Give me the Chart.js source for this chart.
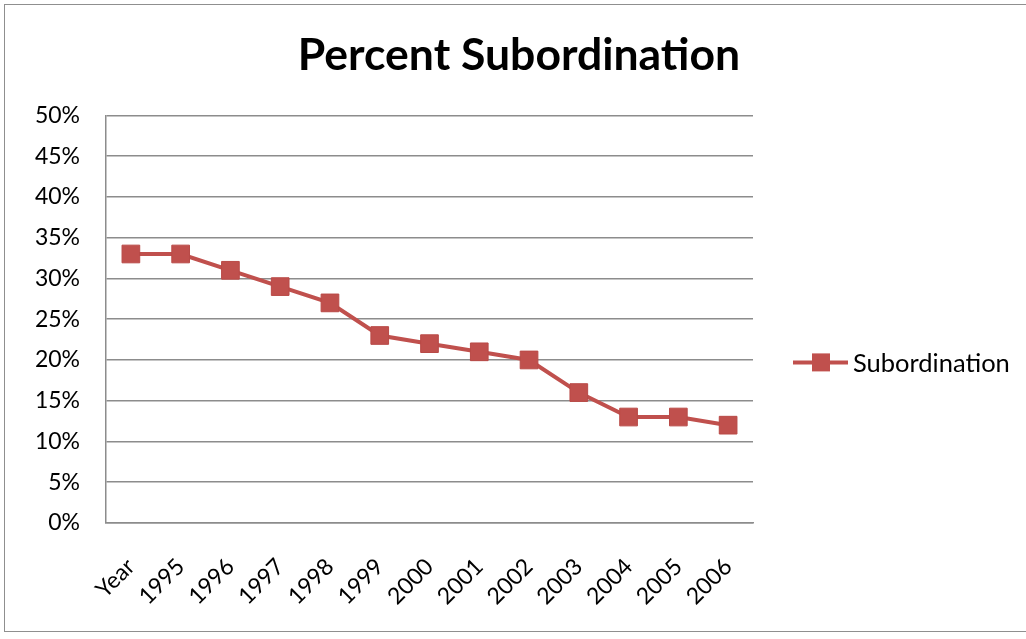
<!DOCTYPE html>
<html>
<head>
<meta charset="utf-8">
<script src="https://cdn.jsdelivr.net/npm/chart.js@4/dist/chart.umd.min.js"></script>
<style>
  html, body { margin: 0; padding: 0; background: #ffffff; overflow: hidden; }
  #wrap { position: relative; width: 1026px; height: 639px; }
  #frame { position: absolute; left: 4px; top: 4px; width: 1100px; height: 628px; border: 1px solid #8f8f8f; box-sizing: border-box; }
  #chart { position: absolute; left: 0; top: 0; }
</style>
</head>
<body>
<div id="wrap">
  <div id="frame"></div>
  <canvas id="chart" width="1026" height="639"></canvas>
</div>
<script>
// Share of subordination by year
const categories = ['Year', '1995', '1996', '1997', '1998', '1999', '2000', '2001', '2002', '2003', '2004', '2005', '2006'];
const subordination = [33, 33, 31, 29, 27, 23, 22, 21, 20, 16, 13, 13, 12];
const seriesName = 'Subordination';
const chartTitle = 'Percent Subordination';
const yMin = 0, yMax = 50, yStep = 5;

const RED = '#C0504D';
const GRID = '#8c8c8c';
const FONT = 'Lato, "Open Sans", sans-serif';

// Legend drawn to the right of the plot: line sample with a square marker
const sideLegend = {
  id: 'sideLegend',
  afterDraw(chart) {
    const ctx = chart.ctx;
    const area = chart.chartArea;
    const ds = chart.data.datasets[0];
    const x0 = area.right + 40;
    const y = area.top + 247;
    ctx.save();
    ctx.strokeStyle = ds.borderColor;
    ctx.lineWidth = ds.borderWidth;
    ctx.beginPath();
    ctx.moveTo(x0, y);
    ctx.lineTo(x0 + 55, y);
    ctx.stroke();
    ctx.fillStyle = ds.pointBackgroundColor;
    ctx.fillRect(x0 + 28 - 9, y - 9, 18, 18);
    ctx.fillStyle = '#000000';
    ctx.font = '25.5px ' + FONT;
    ctx.textBaseline = 'middle';
    ctx.textAlign = 'left';
    ctx.fillText(ds.label, x0 + 60, y + 1);
    ctx.restore();
  }
};

new Chart(document.getElementById('chart'), {
  type: 'line',
  data: {
    labels: categories,
    datasets: [{
      label: seriesName,
      data: subordination,
      borderColor: RED,
      borderWidth: 4,
      backgroundColor: RED,
      pointStyle: 'rect',
      pointRadius: 12.5,
      pointHoverRadius: 12.5,
      pointBackgroundColor: RED,
      pointBorderColor: '#b94a47',
      pointBorderWidth: 1,
      tension: 0
    }]
  },
  options: {
    responsive: false,
    animation: false,
    devicePixelRatio: 1,
    layout: { padding: { left: 12, right: 0, top: 0, bottom: 0 } },
    plugins: {
      legend: { display: false },
      tooltip: { enabled: false },
      title: {
        display: true,
        text: chartTitle,
        color: '#000000',
        font: { family: FONT, size: 44.5, weight: 'bold', lineHeight: 1.2 },
        padding: { top: 29, bottom: 33 }
      }
    },
    scales: {
      x: {
        offset: true,
        grid: { display: false, drawTicks: false },
        border: { display: true, color: GRID, width: 1.5 },
        ticks: {
          color: '#000000',
          font: { family: FONT, size: 23 },
          minRotation: 45,
          maxRotation: 45,
          autoSkip: false,
          padding: 30
        },
        afterFit(scale) { scale.height = 116; }
      },
      y: {
        min: yMin,
        max: yMax,
        grid: { color: GRID, lineWidth: 1.5, drawTicks: false },
        border: { display: true, color: GRID, width: 1.5 },
        ticks: {
          stepSize: yStep,
          color: '#000000',
          font: { family: FONT, size: 23 },
          padding: 26,
          callback: v => v + '%'
        },
        afterFit(scale) { scale.width = 94; }
      },
      // empty band on the right that holds the legend
      legendSpace: {
        type: 'linear',
        position: 'right',
        display: true,
        grid: { display: false, drawTicks: false },
        border: { display: false },
        ticks: { display: false },
        afterFit(scale) { scale.width = 273; }
      }
    }
  },
  plugins: [sideLegend]
});
</script>
</body>
</html>
